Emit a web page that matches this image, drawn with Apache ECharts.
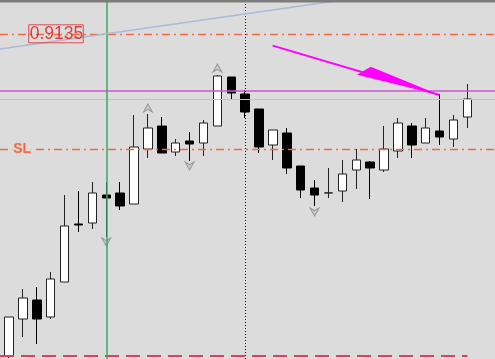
<!DOCTYPE html>
<html>
<head>
<meta charset="utf-8">
<script src="https://cdn.jsdelivr.net/npm/echarts@6/dist/echarts.min.js"></script>
<style>
html,body{margin:0;padding:0;background:#dcdcdc;}
#c{width:495px;height:359px;}
</style>
</head>
<body>
<div id="c"></div>
<script>
// Candle data (index = bar number)
const opens  = [0.89739,0.89924,0.90019,0.89934,0.90109,0.90399,0.90404,0.90544,0.90554,0.90499,0.90774,0.90889,0.90759,0.90814,0.90804,0.90889,0.91134,0.91049,0.90974,0.90794,0.90854,0.90689,0.90579,0.90554,0.90564,0.90669,0.90709,0.90669,0.90764,0.90889,0.90804,0.90864,0.90824,0.90934];
const closes = [0.89934,0.90029,0.89924,0.90124,0.90389,0.90394,0.90554,0.90529,0.90489,0.90784,0.90879,0.90754,0.90804,0.90799,0.90904,0.91139,0.91054,0.90959,0.90784,0.90869,0.90679,0.90569,0.90544,0.90555,0.90649,0.90719,0.90679,0.90774,0.90904,0.90794,0.90879,0.90834,0.90919,0.91024];
const lows   = [0.89729,0.89834,0.89799,0.89924,0.90109,0.90359,0.90374,0.90334,0.90469,0.90499,0.90729,0.90754,0.90739,0.90714,0.90739,0.90889,0.91024,0.90929,0.90754,0.90719,0.90649,0.90529,0.90489,0.90529,0.90509,0.90574,0.90524,0.90659,0.90729,0.90729,0.90804,0.90794,0.90784,0.90879];
const highs  = [0.89934,0.90074,0.90084,0.90159,0.90544,0.90564,0.90609,0.90609,0.90609,0.90944,0.90949,0.90934,0.90824,0.90859,0.90919,0.91144,0.91134,0.91069,0.90974,0.90869,0.90879,0.90689,0.90619,0.90679,0.90719,0.90774,0.90714,0.90889,0.90929,0.90904,0.90929,0.91049,0.90944,0.91099];

// Levels
const levelPrice = 0.9135;
const levelLabel = '0.9135';
const slPrice = 0.90772;
const slLabel = 'SL';
const alertPrice = 0.91064;
const bidPrice = 0.91024;
const lowDashPrice = 0.89740;
const lowDashRange = [-0.65, 33];
const greenBar = 7;
const dottedBar = 17;

// Trendline and drawn arrow [bar, price]
const trendStart = [-0.65, 0.91274];
const trendEnd = [23.5, 0.91514];
const arrowTail = [18.98, 0.91291];
const arrowTip = [31, 0.91044];

// Fractal markers [bar, price]
const upMarks = [[10, 0.90979], [15, 0.91179]];
const downMarks = [[7, 0.90309], [13, 0.90689], [22, 0.90459]];

// Label anchor positions [bar, price]
const levelLabelPos = [3.38, levelPrice];
const slLabelPos = [0.94, slPrice];

const xMin = -0.65, xMax = 34.99;
const candles = opens.map((o, i) => [i, o, closes[i], lows[i], highs[i]]);

function hLine(price, style, from, to) {
  return [{coord: [from == null ? xMin : from, price]}, {coord: [to == null ? xMax : to, price], lineStyle: style}];
}

const chart = echarts.init(document.getElementById('c'), null, {renderer: 'canvas'});
chart.setOption({
  animation: false,
  backgroundColor: '#dcdcdc',
  grid: {left: 0, right: 0, top: 0, bottom: 0},
  xAxis: {type: 'value', min: xMin, max: xMax, show: false, splitLine: {show: false}},
  yAxis: {type: 'value', min: 0.89724, max: 0.91519, show: false, scale: true, splitLine: {show: false}},
  graphic: [{type: 'rect', shape: {x: 0, y: 0, width: 495, height: 2.5}, style: {fill: '#7c7c7c'}, z: 100}],
  series: [
    {
      type: 'line', data: [], z: 1, silent: true,
      markLine: {
        silent: true, symbol: 'none', label: {show: false}, animation: false,
        data: [
          hLine(bidPrice, {color: '#c2c2c2', width: 1, type: 'solid'}),
          hLine(alertPrice, {color: '#cc55d0', width: 1.5, type: 'solid'}),
          hLine(levelPrice, {color: '#f26a44', width: 1.3, type: [8, 4, 2, 4]}),
          hLine(slPrice, {color: '#f26a44', width: 1.3, type: [8, 4, 2, 4]}),
          hLine(lowDashPrice, {color: '#e0405a', width: 2, type: [14, 7]}, lowDashRange[0], lowDashRange[1]),
          {xAxis: greenBar, lineStyle: {color: '#3aa86a', width: 1.5, type: 'solid'}},
          {xAxis: dottedBar, lineStyle: {color: '#111111', width: 1, type: [1, 2]}},
          [{coord: trendStart}, {coord: trendEnd, lineStyle: {color: '#a9b9d6', width: 1.5, type: 'solid'}}]
        ]
      }
    },
    {
      type: 'candlestick',
      z: 3,
      barWidth: 9,
      data: candles,
      encode: {x: 0, y: [1, 2, 3, 4]},
      itemStyle: {color: '#ffffff', color0: '#000000', borderColor: '#222222', borderColor0: '#000000', borderWidth: 1}
    },
    {
      type: 'scatter', z: 4, data: upMarks, symbol: 'path://M5,0 L10,9 L5,6 L0,9 Z', symbolSize: [9, 8],
      itemStyle: {color: '#c8c8c8', borderColor: '#8a8a8a', borderWidth: 1}
    },
    {
      type: 'scatter', z: 4, data: downMarks, symbol: 'path://M0,0 L5,3 L10,0 L5,9 Z', symbolSize: [9, 8],
      itemStyle: {color: '#c8c8c8', borderColor: '#8a8a8a', borderWidth: 1}
    },
    {
      type: 'custom', z: 5,
      data: [[arrowTail[0], arrowTail[1], arrowTip[0], arrowTip[1]]],
      encode: {x: [0, 2], y: [1, 3]},
      renderItem: function (params, api) {
        const a = api.coord([api.value(0), api.value(1)]);
        const b = api.coord([api.value(2), api.value(3)]);
        const dx = b[0] - a[0], dy = b[1] - a[1];
        const L = Math.hypot(dx, dy), ux = dx / L, uy = dy / L;
        const nx = -uy, ny = ux;
        const c1 = [b[0] - ux * 85 + nx * 4, b[1] - uy * 85 + ny * 4];
        const c2 = [b[0] - ux * 74 - nx * 7.6, b[1] - uy * 74 - ny * 7.6];
        return {
          type: 'group',
          children: [
            {type: 'line', shape: {x1: a[0], y1: a[1], x2: b[0], y2: b[1]}, style: {stroke: '#ff00ff', lineWidth: 2}},
            {type: 'polygon', shape: {points: [b, c1, c2]}, style: {fill: '#ff00ff'}}
          ]
        };
      }
    },
    {
      type: 'scatter', z: 6, symbolSize: 0, silent: true,
      data: [levelLabelPos],
      label: {
        show: true, position: 'inside', formatter: levelLabel,
        color: '#ec1010', fontFamily: 'Liberation Sans, Arial, sans-serif', fontSize: 17.5,
        borderColor: '#e02828', borderWidth: 1, padding: [0, 0, 0, 1], lineHeight: 18
      }
    },
    {
      type: 'scatter', z: 6, symbolSize: 0, silent: true,
      data: [slLabelPos],
      label: {
        show: true, position: 'inside', formatter: slLabel,
        color: '#ff4a14', fontFamily: 'Liberation Sans, Arial, sans-serif', fontSize: 14, fontWeight: 'bold',
        backgroundColor: '#dcdcdc', padding: [0, 2]
      }
    }
  ]
});
</script>
</body>
</html>
